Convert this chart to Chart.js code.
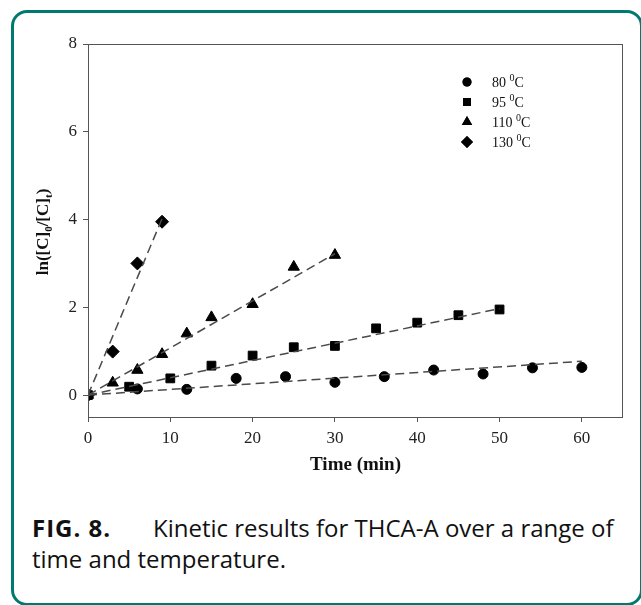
<!DOCTYPE html>
<html>
<head>
<meta charset="utf-8">
<script src="https://cdn.jsdelivr.net/npm/chart.js@4.4.1/dist/chart.umd.min.js"></script>
<style>
  body { margin: 0; background: #fff; width: 641px; height: 605px; overflow: hidden; position: relative; }
  #frame { position: absolute; left: 11px; top: 10px; width: 632px; height: 596px; box-sizing: border-box;
           border: 3px solid #00796f; border-radius: 16px; }
  #chart-container { position: absolute; left: 0; top: 0; width: 641px; height: 490px; }
  #caption { position: absolute; left: 32px; top: 512px; width: 605px; font-family: "Open Sans", sans-serif;
             font-size: 24px; line-height: 31px; color: #111; white-space: nowrap; }
  #caption b { display: inline-block; width: 121px; letter-spacing: 1px; }
</style>
</head>
<body>
<div id="frame"></div>
<div id="chart-container"><canvas id="myChart"></canvas></div>
<div id="caption"><b>FIG. 8.</b>Kinetic results for THCA-A over a range of<br>time and temperature.</div>
<script>
// dados
var temps = ["80", "95", "110", "130"];
var times80 = [0, 6, 12, 18, 24, 30, 36, 42, 48, 54, 60];
var vals80 = [0, 0.14, 0.13, 0.38, 0.42, 0.29, 0.42, 0.57, 0.48, 0.62, 0.63];
var times95 = [0, 5, 10, 15, 20, 25, 30, 35, 40, 45, 50];
var vals95 = [0, 0.19, 0.38, 0.67, 0.90, 1.09, 1.12, 1.52, 1.65, 1.82, 1.95];
var times110 = [0, 3, 6, 9, 12, 15, 20, 25, 30];
var vals110 = [0, 0.28, 0.57, 0.93, 1.40, 1.77, 2.07, 2.92, 3.19];
var times130 = [0, 3, 6, 9];
var vals130 = [0, 0.99, 3.0, 3.95];
// retas de ajuste (inicio e fim)
var fitTimes = [[0, 60], [0, 50], [0, 30], [0, 9]];
var fitVals = [[0, 0.77], [0, 1.97], [0, 3.22], [0, 4.02]];
var xTicks = [0, 10, 20, 30, 40, 50, 60];
var yTicks = [0, 2, 4, 6, 8];

var styles = ["circle", "rect", "triangle", "rectRot"];
var radii = [5, 6.2, 6.5, 6.5];

function pts(t, v) {
    return t.map(function (x, i) { return { x: x, y: v[i] }; });
}

var series = [pts(times80, vals80), pts(times95, vals95), pts(times110, vals110), pts(times130, vals130)];
var datasets = [];
series.forEach(function (s, i) {
    datasets.push({
        type: "line",
        data: pts(fitTimes[i], fitVals[i]),
        borderColor: "#4a4a4a",
        borderWidth: 1.5,
        borderDash: [9, 5],
        pointRadius: 0,
        fill: false
    });
});
series.forEach(function (s, i) {
    datasets.push({
        type: "scatter",
        label: temps[i] + " °C",
        data: s,
        pointStyle: styles[i],
        pointRadius: radii[i],
        pointBackgroundColor: "#000",
        pointBorderColor: "#000",
        pointBorderWidth: 1
    });
});

var serif = "'Liberation Serif', 'Times New Roman', serif";

var extras = {
    id: "extras",
    afterDraw: function (chart) {
        var ctx = chart.ctx;
        var a = chart.chartArea;
        ctx.save();
        // caixa do grafico
        ctx.strokeStyle = "#555";
        ctx.lineWidth = 1;
        ctx.strokeRect(a.left + 0.5, a.top + 0.5, a.right - a.left - 1, a.bottom - a.top);

        // titulo do eixo x
        ctx.fillStyle = "#111";
        ctx.font = "bold 19px " + serif;
        ctx.textAlign = "center";
        ctx.textBaseline = "middle";
        ctx.fillText("Time (min)", (a.left + a.right) / 2, 465);

        // titulo do eixo y com subscritos
        var parts = [["ln([C]", 17, 0], ["0", 11, 4], ["/[C]", 17, 0], ["t", 11, 4], [")", 17, 0]];
        var total = 0;
        parts.forEach(function (p) { ctx.font = "bold " + p[1] + "px " + serif; total += ctx.measureText(p[0]).width; });
        ctx.translate(42, 232);
        ctx.rotate(-Math.PI / 2);
        ctx.textAlign = "left";
        ctx.textBaseline = "alphabetic";
        var x = -total / 2;
        parts.forEach(function (p) {
            ctx.font = "bold " + p[1] + "px " + serif;
            ctx.fillText(p[0], x, 6 + p[2]);
            x += ctx.measureText(p[0]).width;
        });
        ctx.restore();

        // legenda
        ctx.save();
        temps.forEach(function (t, i) {
            var y = 82 + i * 20;
            Chart.helpers.drawPoint(ctx, { pointStyle: styles[i], radius: radii[i] - 0.5, borderWidth: 0 }, 467, y);
            ctx.fillStyle = "#000";
            ctx.fill();
            ctx.fillStyle = "#111";
            ctx.font = "14px " + serif;
            ctx.textBaseline = "middle";
            ctx.textAlign = "left";
            var s1 = t + " ";
            ctx.fillText(s1, 492, y + 1);
            var w = ctx.measureText(s1).width;
            ctx.font = "10px " + serif;
            ctx.fillText("0", 492 + w, y - 4);
            var w2 = ctx.measureText("0").width;
            ctx.font = "14px " + serif;
            ctx.fillText("C", 492 + w + w2, y + 1);
        });
        ctx.restore();
    }
};

var ctx = document.getElementById("myChart").getContext("2d");
var myChart = new Chart(ctx, {
    data: { datasets: datasets },
    options: {
        responsive: true,
        maintainAspectRatio: false,
        animation: false,
        layout: { padding: { top: 44, right: 18, left: 0, bottom: 0 } },
        plugins: {
            legend: { display: false },
            tooltip: { enabled: false }
        },
        scales: {
            x: {
                type: "linear",
                min: 0,
                max: 65,
                afterFit: function (s) { s.height = 73; },
                afterBuildTicks: function (s) { s.ticks = xTicks.map(function (v) { return { value: v }; }); },
                grid: { drawOnChartArea: false, drawTicks: true, tickLength: 5, color: "#555" },
                border: { display: false },
                ticks: { color: "#222", padding: 6, font: { family: serif, size: 17 } }
            },
            y: {
                type: "linear",
                min: -0.5,
                max: 8,
                afterFit: function (s) { s.width = 88; },
                afterBuildTicks: function (s) { s.ticks = yTicks.map(function (v) { return { value: v }; }); },
                grid: { drawOnChartArea: false, drawTicks: true, tickLength: 5, color: "#555" },
                border: { display: false },
                ticks: { color: "#222", padding: 6, font: { family: serif, size: 17 } }
            }
        }
    },
    plugins: [extras]
});
</script>
</body>
</html>
